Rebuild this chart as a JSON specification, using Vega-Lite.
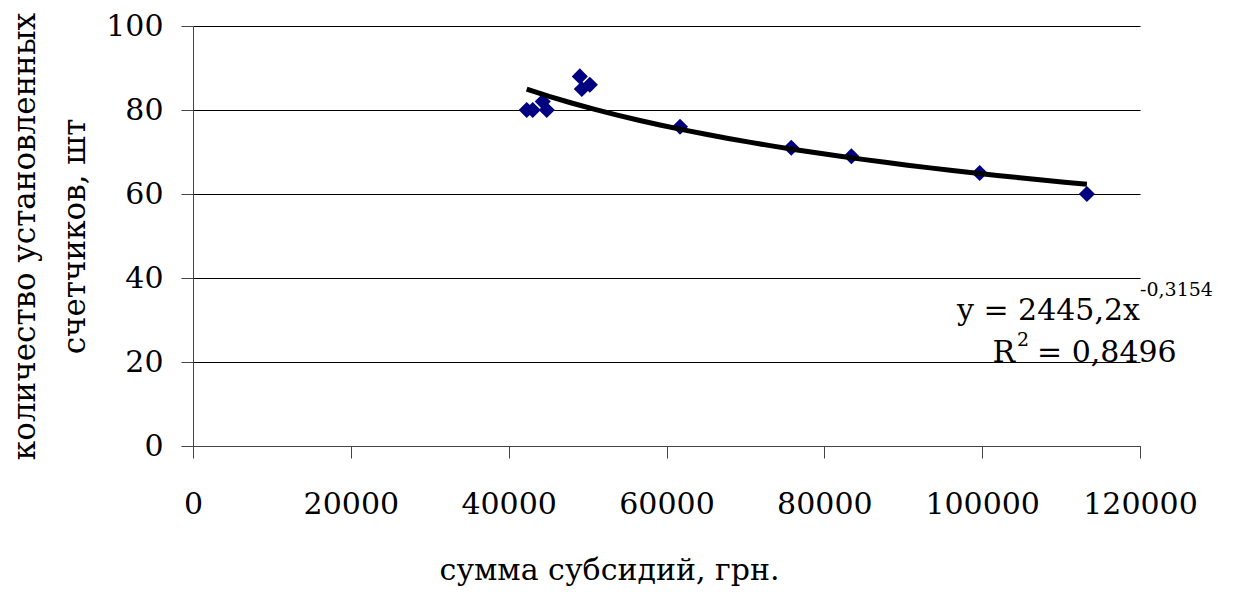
{
  "$schema": "https://vega.github.io/schema/vega-lite/v6.json",
  "width": 947,
  "height": 420,
  "autosize": "none",
  "padding": {"left": 193, "top": 26, "right": 97, "bottom": 146},
  "background": "white",
  "config": {
    "view": {"stroke": null},
    "font": "DejaVu Serif",
    "axis": {"labelFont": "DejaVu Serif", "titleFont": "DejaVu Serif", "labelColor": "black", "titleColor": "black", "titleFontWeight": "normal"}
  },
  "data": {
    "values": [
      {"sum": 42286, "count": 80},
      {"sum": 43048, "count": 80},
      {"sum": 44317, "count": 82},
      {"sum": 44825, "count": 80},
      {"sum": 49016, "count": 88},
      {"sum": 49270, "count": 85},
      {"sum": 50286, "count": 86},
      {"sum": 61714, "count": 76},
      {"sum": 75810, "count": 71},
      {"sum": 83429, "count": 69},
      {"sum": 99683, "count": 65},
      {"sum": 113270, "count": 60}
    ]
  },
  "encoding": {
    "x": {
      "field": "sum", "type": "quantitative",
      "scale": {"domain": [0, 120000], "nice": false, "zero": true},
      "axis": {
        "values": [0, 20000, 40000, 60000, 80000, 100000, 120000],
        "format": "d", "grid": false, "labelFontSize": 30, "labelPadding": 31,
        "tickSize": 12, "tickColor": "#444", "domainColor": "#444", "labelOverlap": false, "labelFlush": false,
        "title": "сумма субсидий, грн.", "titleFontSize": 30, "titleX": 416, "titleY": 124, "titleBaseline": "middle", "titleAnchor": null, "titleAlign": "center"
      }
    },
    "y": {
      "field": "count", "type": "quantitative",
      "scale": {"domain": [0, 100], "nice": false},
      "axis": {
        "values": [0, 20, 40, 60, 80, 100],
        "grid": true, "gridColor": "#000", "gridWidth": 1, "gridOpacity": 1,
        "labelFontSize": 30, "labelPadding": 18, "tickSize": 12, "tickColor": "#444", "domainColor": "#444",
        "labelOverlap": false, "labelFlush": false,
        "title": ["количество установленных", "счетчиков, шт"], "titleFontSize": 31, "titleLineHeight": 50,
        "titleAngle": -90, "titleX": -168, "titleY": 210, "titleBaseline": "middle", "titleAlign": "center"
      }
    }
  },
  "layer": [
    {
      "mark": {"type": "point", "shape": "diamond", "filled": true, "color": "#000080", "size": 260, "opacity": 1}
    },
    {
      "transform": [{"regression": "count", "on": "sum", "method": "pow"}],
      "mark": {"type": "line", "color": "black", "strokeWidth": 5}
    },
    {
      "transform": [{"filter": "datum.sum == 113270"}],
      "mark": {"type": "text", "text": "y = 2445,2x", "align": "right", "baseline": "middle", "fontSize": 30, "color": "black"},
      "encoding": {"x": {"datum": 120000, "type": "quantitative"}, "y": {"datum": 32.1, "type": "quantitative"}}
    },
    {
      "transform": [{"filter": "datum.sum == 113270"}],
      "mark": {"type": "text", "text": "-0,3154", "align": "left", "baseline": "middle", "fontSize": 19, "color": "black"},
      "encoding": {"x": {"datum": 120000, "type": "quantitative"}, "y": {"datum": 37.1, "type": "quantitative"}}
    },
    {
      "transform": [{"filter": "datum.sum == 113270"}],
      "mark": {"type": "text", "text": "R", "align": "right", "baseline": "middle", "fontSize": 30, "color": "black"},
      "encoding": {"x": {"datum": 104160, "type": "quantitative"}, "y": {"datum": 22.1, "type": "quantitative"}}
    },
    {
      "transform": [{"filter": "datum.sum == 113270"}],
      "mark": {"type": "text", "text": "2", "align": "left", "baseline": "middle", "fontSize": 19, "color": "black", "dx": 2},
      "encoding": {"x": {"datum": 104160, "type": "quantitative"}, "y": {"datum": 25.2, "type": "quantitative"}}
    },
    {
      "transform": [{"filter": "datum.sum == 113270"}],
      "mark": {"type": "text", "text": "= 0,8496", "align": "left", "baseline": "middle", "fontSize": 30, "color": "black", "dx": 22},
      "encoding": {"x": {"datum": 104160, "type": "quantitative"}, "y": {"datum": 22.1, "type": "quantitative"}}
    }
  ]
}
